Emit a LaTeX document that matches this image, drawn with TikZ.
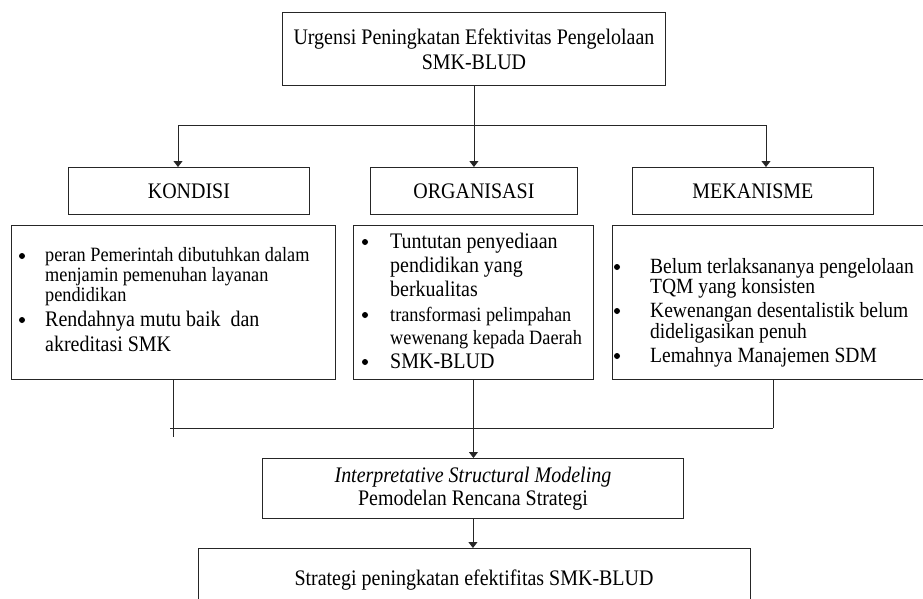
\documentclass[tikz,border=0pt]{standalone}
\usepackage{fontspec}
\setmainfont{Liberation Serif}[FakeStretch=0.9]
\usetikzlibrary{arrows.meta}
\begin{document}
\begin{tikzpicture}[x=1pt,y=-1pt,
  box/.style={draw=black!85, line width=0.9pt, inner sep=0pt, anchor=north west},
  ln/.style={draw=black!85, line width=0.9pt},
  arr/.style={ln, -{Triangle[width=9pt,length=6pt]}},
  big/.style={font=\fontsize{22.2}{25}\selectfont},
  mid/.style={font=\fontsize{21.7}{23}\selectfont},
  sml/.style={font=\fontsize{20.3}{21}\selectfont},
  txt/.style={anchor=base west, inner sep=0pt},
  dot/.style={circle, fill=black, inner sep=0pt, minimum size=6pt},
]
\useasboundingbox (0,0) rectangle (923,598);

% top box
\node[box, minimum width=383pt, minimum height=73pt, align=center, big] (top) at (282,12)
  {Urgensi Peningkatan Efektivitas Pengelolaan\\SMK-BLUD};

% title boxes
\node[box, minimum width=241pt, minimum height=47pt, big] (kont) at (68,167) {KONDISI};
\node[box, minimum width=207pt, minimum height=47pt, big] (orgt) at (370,167) {ORGANISASI};
\node[box, minimum width=241pt, minimum height=47pt, big] (mekt) at (632,167) {MEKANISME};

% content boxes
\node[box, minimum width=324pt, minimum height=154pt] (konc) at (11,225) {};
\node[box, minimum width=240pt, minimum height=154pt] (orgc) at (353,225) {};
\node[box, minimum width=315pt, minimum height=154pt] (mekc) at (612,225) {};

% KONDISI items
\node[dot] (kb1) at (22,256) {};
\node[txt, sml] (k1a) at (45,261) {peran Pemerintah dibutuhkan dalam};
\node[txt, sml] (k1b) at (45,281) {menjamin pemenuhan layanan};
\node[txt, sml] (k1c) at (45,301) {pendidikan};
\node[dot] (kb2) at (22,320) {};
\node[txt, big] (k2a) at (45,326) {Rendahnya mutu baik\ \ dan};
\node[txt, big] (k2b) at (45,351) {akreditasi SMK};

% ORGANISASI items
\node[dot] (ob1) at (365,242) {};
\node[txt, big] (o1a) at (390,248) {Tuntutan penyediaan};
\node[txt, big] (o1b) at (390,272) {pendidikan yang};
\node[txt, big] (o1c) at (390,296) {berkualitas};
\node[dot] (ob2) at (365,315) {};
\node[txt, sml] (o2a) at (390,321) {transformasi pelimpahan};
\node[txt, sml] (o2b) at (390,344) {wewenang kepada Daerah};
\node[dot] (ob3) at (365,362) {};
\node[txt, big] (o3a) at (390,368) {SMK-BLUD};

% MEKANISME items
\node[dot] (mb1) at (617,267) {};
\node[txt, mid] (m1a) at (650,273) {Belum terlaksananya pengelolaan};
\node[txt, mid] (m1b) at (650,293) {TQM yang konsisten};
\node[dot] (mb2) at (617,311) {};
\node[txt, mid] (m2a) at (650,317) {Kewenangan desentalistik belum};
\node[txt, mid] (m2b) at (650,338) {dideligasikan penuh};
\node[dot] (mb3) at (617,356) {};
\node[txt, mid] (m3a) at (650,362) {Lemahnya Manajemen SDM};

% ISM box
\node[box, minimum width=421pt, minimum height=60pt, align=center,
      font=\fontsize{22.2}{23.5}\selectfont] (ism) at (262,458)
  {\textit{Interpretative Structural Modeling}\\Pemodelan Rencana Strategi};

% strategy box
\node[box, minimum width=552pt, minimum height=80pt] (str) at (198,548) {};
\node[txt, big, anchor=base] (strt) at (474,585) {Strategi peningkatan efektifitas SMK-BLUD};

% upper connectors
\coordinate (jl) at (178,125);
\coordinate (jr) at (766,125);
\draw[arr] (top.south) -- (orgt.north);
\draw[ln] (jl) -- (jr);
\draw[arr] (jl) -- (jl |- kont.north);
\draw[arr] (jr) -- (jr |- mekt.north);

% lower connectors
\coordinate (bl) at (173,437);
\coordinate (hl) at (170,428);
\coordinate (hr) at (773,428);
\draw[ln] (konc.south -| bl) -- (bl);
\draw[ln] (hl) -- (hr);
\draw[ln] (mekc.south -| hr) -- (hr);
\draw[arr] (orgc.south) -- (orgc.south |- ism.north);
\draw[arr] (ism.south) -- (ism.south |- str.north);
\end{tikzpicture}
\end{document}
